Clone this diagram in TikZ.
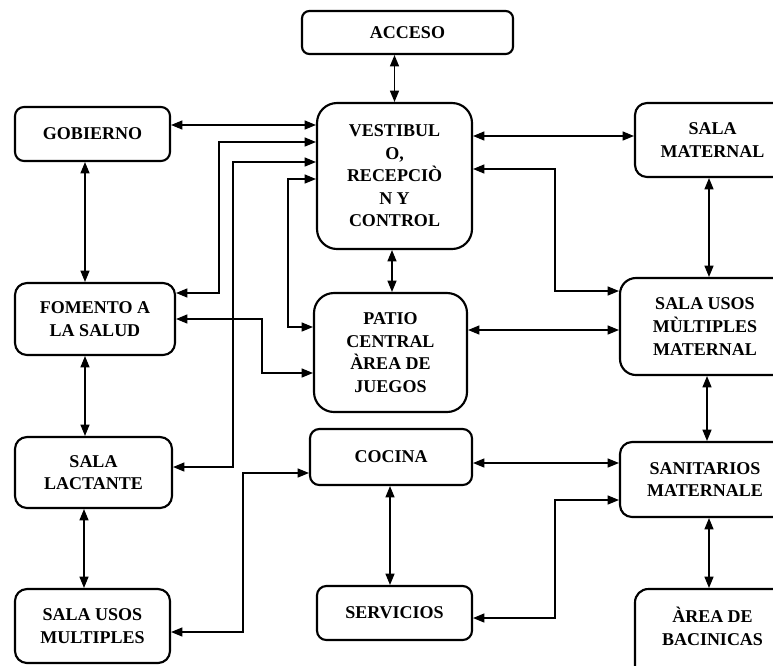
\documentclass[tikz,border=0pt]{standalone}
\usepackage{fontspec}
\setmainfont{Liberation Serif}
\usepackage{tikz}
\usetikzlibrary{arrows.meta,positioning,calc}

\begin{document}
\begin{tikzpicture}[
    x=0.75pt, y=-0.75pt,
    room/.style={rectangle, draw=black, line width=1.6pt, rounded corners=#1,
        align=center, inner sep=0pt,
        font=\bfseries\fontsize{13.5}{16.9}\selectfont},
    room/.default=9pt,
    boxsize/.style 2 args={minimum width=#1*0.75pt, minimum height=#2*0.75pt},
    arrow/.style={<->, >={Triangle[length=8.5pt,width=6.8pt]}, line width=0.9pt}
]
\path[use as bounding box, clip] (0,0) rectangle (773,665);

% Central column
\node[room=5.5pt, boxsize={211}{43}] (acceso) at (407.5,32.5) {ACCESO};
\node[room=15pt, boxsize={155}{146}] (vestibulo) at (394.5,176) {
    VESTIBUL\\
    O,\\
    RECEPCIÒ\\
    N Y\\
    CONTROL
};
\node[room=15pt, boxsize={153}{119}] (patio) at (390.5,352.5) {
    PATIO\\
    CENTRAL\\
    ÀREA DE\\
    JUEGOS
};
\node[room=7pt, boxsize={162}{56}] (cocina) at (391,457) {COCINA};
\node[room=7pt, boxsize={155}{54}] (servicios) at (394.5,613) {SERVICIOS};

% Left column
\node[room=6.75pt, boxsize={155}{54}] (gobierno) at (92.5,134) {GOBIERNO};
\node[room, boxsize={160}{72}] (fomento) at (95,319) {
    FOMENTO A\\
    LA SALUD
};
\node[room, boxsize={157}{71}] (lactante) at (93.5,472.5) {
    SALA\\
    LACTANTE
};
\node[room, boxsize={155}{74}] (usosmult) at (92.5,626) {
    SALA USOS\\
    MULTIPLES
};

% Right column
\node[room, boxsize={155}{74}] (maternal) at (712.5,140) {
    SALA\\
    MATERNAL
};
\node[room=12pt, boxsize={170}{97}] (usosmat) at (705,326.5) {
    SALA USOS\\
    MÙLTIPLES\\
    MATERNAL
};
\node[room, boxsize={170}{75}] (sanitarios) at (705,479.5) {
    SANITARIOS\\
    MATERNALE
};
\node[room=10pt, boxsize={155}{100}] (bacinicas) at (712.5,639) {
    ÀREA DE\\
    BACINICAS\\[2pt]
};

% Straight links
\draw[arrow] (vestibulo.north |- acceso.south) -- (vestibulo.north);
\draw[arrow] (gobierno.east |- 0,125) -- (vestibulo.west |- 0,125);
\draw[arrow] (85,0 |- gobierno.south) -- (85,0 |- fomento.north);
\draw[arrow] (392,0 |- vestibulo.south) -- (392,0 |- patio.north);
\draw[arrow] (vestibulo.east |- 0,136) -- (maternal.west |- 0,136);
\draw[arrow] (709,0 |- maternal.south) -- (709,0 |- usosmat.north);
\draw[arrow] (patio.east |- 0,330) -- (usosmat.west |- 0,330);
\draw[arrow] (707,0 |- usosmat.south) -- (707,0 |- sanitarios.north);
\draw[arrow] (cocina.east |- 0,463) -- (sanitarios.west |- 0,463);
\draw[arrow] (709,0 |- sanitarios.south) -- (709,0 |- bacinicas.north);
\draw[arrow] (390,0 |- cocina.south) -- (390,0 |- servicios.north);
\draw[arrow] (85,0 |- fomento.south) -- (85,0 |- lactante.north);
\draw[arrow] (84,0 |- lactante.south) -- (84,0 |- usosmult.north);

% Elbow links
\draw[arrow] (vestibulo.east |- 0,169) -| (555,291) -- (usosmat.west |- 0,291);
\draw[arrow] (servicios.east |- 0,618) -| (555,500) -- (sanitarios.west |- 0,500);
\draw[arrow] (vestibulo.west |- 0,142) -| (219,293) -- (fomento.east |- 0,293);
\draw[arrow] (vestibulo.west |- 0,162) -| (233,467) -- (lactante.east |- 0,467);
\draw[arrow] (vestibulo.west |- 0,179) -| (288,327) -- (patio.west |- 0,327);
\draw[arrow] (fomento.east |- 0,319) -| (262,373) -- (patio.west |- 0,373);
\draw[arrow] (usosmult.east |- 0,632) -| (243,473) -- (cocina.west |- 0,473);

\end{tikzpicture}
\end{document}
